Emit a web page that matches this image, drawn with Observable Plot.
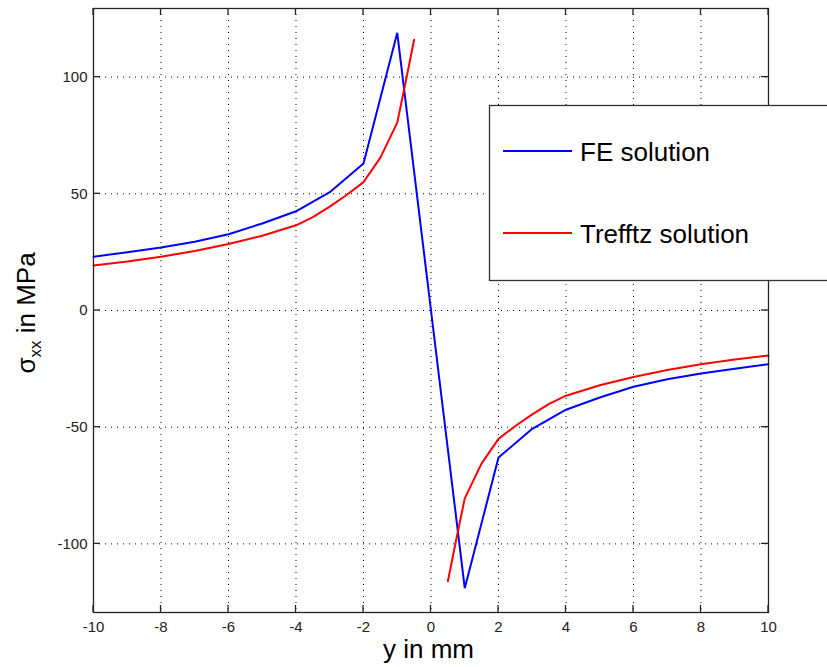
<!DOCTYPE html>
<html><head><meta charset="utf-8">
<script src="https://cdn.jsdelivr.net/npm/d3@7"></script>
<script src="https://cdn.jsdelivr.net/npm/@observablehq/plot@0.6"></script>
<style>
html,body{margin:0;padding:0;background:#fff;overflow:hidden;}
#wrap{position:relative;width:827px;height:667px;overflow:hidden;}
#wrap svg{overflow:hidden;}
</style></head>
<body><div id="wrap"></div>
<script>
// FE solution (blue)
const feX = [-10,-9,-8,-7,-6,-5,-4,-3,-2,-1,0,1,2,3,4,5,6,7,8,9,10];
const feV = [23,25,27,29.5,32.7,37.3,42.5,50.7,63,119,0,-119,-63,-50.7,-42.5,-37.3,-32.7,-29.5,-27,-25,-23];
// Trefftz solution (red), two branches
const trXNeg = [-10,-9,-8,-7,-6,-5,-4,-3.5,-3,-2.5,-2,-1.5,-1,-0.75,-0.5];
const trVNeg = [19.3,21,23,25.5,28.5,32,36.5,40,44.5,49.5,55,65.5,80.5,98,116];
const trXPos = [0.5,0.75,1,1.5,2,2.5,3,3.5,4,5,6,7,8,9,10];
const trVPos = [-116,-98,-80.5,-65.5,-55,-49.5,-44.5,-40,-36.5,-32,-28.5,-25.5,-23,-21,-19.3];
// ticks
const xTicks = [-10,-8,-6,-4,-2,0,2,4,6,8,10];
const yTicks = [-100,-50,0,50,100];
const seriesNames = ["FE solution","Trefftz solution"];
const seriesColors = ["#0000ff","#ff0000"];

const fe = feX.map((x,i)=>({x, v: feV[i]}));
const tr = [
  ...trXNeg.map((x,i)=>({x, v: trVNeg[i], b: "neg"})),
  ...trXPos.map((x,i)=>({x, v: trVPos[i], b: "pos"}))
];

const font = "'Liberation Sans', Arial, Helvetica, sans-serif";
const fmt = d => String(d);
const plot = Plot.plot({
  width: 827, height: 667,
  marginLeft: 93, marginRight: 59, marginTop: 8, marginBottom: 55,
  style: {fontFamily: font, fontSize: "15px", background: "white", color: "#000"},
  x: {domain: [-10, 10], label: null},
  y: {domain: [-129.4, 129.4], label: null},
  marks: [
    Plot.gridX(xTicks.filter(t => Math.abs(t) < 10), {stroke: "#000", strokeOpacity: 1, strokeDasharray: "1,5"}),
    Plot.gridY(yTicks, {stroke: "#000", strokeOpacity: 1, strokeDasharray: "1,5"}),
    Plot.axisX(xTicks, {tickSize: 0, tickPadding: 9, fontSize: 15, fill: "#222", tickFormat: fmt}),
    Plot.axisY(yTicks, {tickSize: 0, tickPadding: 6, fontSize: 15, fill: "#222", tickFormat: fmt}),
    Plot.line(fe, {x: "x", y: "v", stroke: seriesColors[0], strokeWidth: 2, strokeLinejoin: "miter"}),
    Plot.line(tr, {x: "x", y: "v", z: "b", stroke: seriesColors[1], strokeWidth: 2, strokeLinejoin: "miter"}),
    Plot.frame({stroke: "#222", strokeWidth: 1.3})
  ]
});
document.getElementById("wrap").appendChild(plot);

const sx = plot.scale("x"), sy = plot.scale("y");
const svg = d3.select(plot);
const x0 = sx.apply(-10), x1 = sx.apply(10);
const yTop = sy.apply(129.4), yBot = sy.apply(-129.4);
const tl = 7;
const g = svg.append("g").attr("stroke", "#222").attr("stroke-width", 1.3);
xTicks.forEach(t => {
  const x = sx.apply(t);
  g.append("line").attr("x1", x).attr("x2", x).attr("y1", yBot).attr("y2", yBot - tl);
  g.append("line").attr("x1", x).attr("x2", x).attr("y1", yTop).attr("y2", yTop + tl);
});
yTicks.forEach(t => {
  const y = sy.apply(t);
  g.append("line").attr("x1", x0).attr("x2", x0 + tl).attr("y1", y).attr("y2", y);
  g.append("line").attr("x1", x1).attr("x2", x1 - tl).attr("y1", y).attr("y2", y);
});

// axis labels
svg.append("text").attr("x", (x0 + x1) / 2 - 2).attr("y", 658)
  .attr("text-anchor", "middle").attr("font-family", font).attr("font-size", 26).attr("fill", "#000")
  .text("y in mm");
const yl = svg.append("text").attr("transform", "translate(35,313) rotate(-90)")
  .attr("text-anchor", "middle").attr("font-family", font).attr("font-size", 26).attr("fill", "#000");
yl.append("tspan").text("σ");
yl.append("tspan").attr("font-size", 17).attr("dy", 6).text("xx");
yl.append("tspan").attr("dy", -6).text(" in MPa");

// legend
const lg = svg.append("g");
lg.append("rect").attr("x", 489.5).attr("y", 105.5).attr("width", 400).attr("height", 175)
  .attr("fill", "#fff").attr("stroke", "#333").attr("stroke-width", 1.3);
seriesNames.forEach((n, i) => {
  const cy = 151 + i * 82;
  lg.append("line").attr("x1", 503).attr("x2", 572).attr("y1", cy).attr("y2", cy)
    .attr("stroke", seriesColors[i]).attr("stroke-width", 2);
  lg.append("text").attr("x", 580).attr("y", cy + 10).attr("text-anchor", "start")
    .attr("font-family", font).attr("font-size", 26).attr("fill", "#000").text(n);
});
</script>
</body></html>
